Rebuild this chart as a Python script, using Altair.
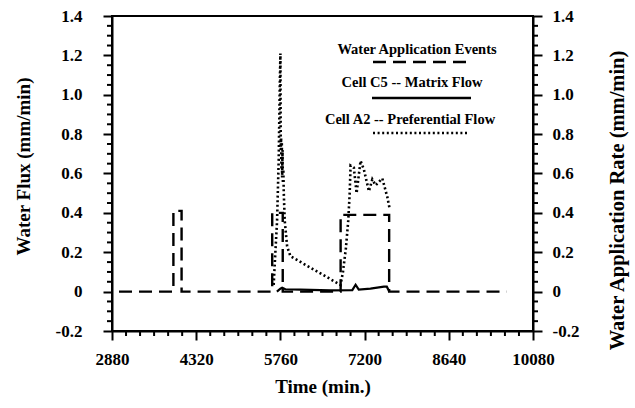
import altair as alt
import pandas as pd

# ---- data (time in minutes, flux/rate in mm/min) ----
event_time = [3000, 3930, 3930, 4070, 4070, 5620, 5620, 5800, 5800, 6790, 6790, 7620, 7620, 9630]
event_rate = [0, 0, 0.41, 0.41, 0, 0, 0.40, 0.40, 0, 0, 0.39, 0.39, 0, 0]

c5_time = [5700, 5760, 5790, 5846, 6100, 6620, 6990, 7046, 7100, 7300, 7530, 7580, 7623]
c5_flux = [0, 0.015, 0.02, 0.012, 0.01, 0.006, 0.008, 0.035, 0.01, 0.015, 0.025, 0.025, 0]

a2_time = [5645, 5674, 5703, 5731, 5749, 5760, 5766, 5772, 5778, 5784, 5790, 5796, 5803,
           5810, 5818, 5834, 5875, 5931, 6789, 6830, 6880, 6920, 6945, 6960, 7016, 7063,
           7131, 7188, 7274, 7332, 7389, 7503, 7589, 7629]
a2_flux = [0.034, 0.2, 0.36, 0.67, 1.04, 1.21, 0.72, 0.78, 0.62, 0.76, 0.58, 0.72, 0.55,
           0.62, 0.5, 0.36, 0.23, 0.18, 0.034, 0.1, 0.22, 0.36, 0.5, 0.64, 0.63, 0.50,
           0.665, 0.62, 0.51, 0.57, 0.54, 0.575, 0.48, 0.42]

legend_labels = ["Water Application Events", "Cell C5 -- Matrix Flow",
                 "Cell A2 -- Preferential Flow"]

x_major = [2880, 4320, 5760, 7200, 8640, 10080]
x_minor = [t for t in range(2880, 10081, 240) if t % 1440 != 0]
y_major = [-0.2, 0, 0.2, 0.4, 0.6, 0.8, 1.0, 1.2, 1.4]
y_minor = [round(-0.2 + 0.05 * k, 2) for k in range(33) if k % 4 != 0]

# ---- tables ----
events = pd.DataFrame({"t": event_time, "v": event_rate, "i": range(len(event_time))})
c5 = pd.DataFrame({"t": c5_time, "v": c5_flux, "i": range(len(c5_time))})
a2 = pd.DataFrame({"t": a2_time, "v": a2_flux, "i": range(len(a2_time))})
xminor_df = pd.DataFrame({"t": x_minor})
yminor_df = pd.DataFrame({"v": y_minor})

W, H = 421, 315
FONT = "Liberation Serif"

xs = alt.Scale(domain=[2880, 10080], nice=False, zero=False)
ys = alt.Scale(domain=[-0.2, 1.4], nice=False, zero=False)

ylab = ("abs(datum.value) < 1e-9 ? '0' : (datum.value < 0 ? '-' + format(-datum.value, '.1f')"
        " : format(datum.value, '.1f'))")

x_axis = alt.Axis(values=x_major, format="d", title="Time (min.)", tickSize=9,
                  labelPadding=11, titlePadding=10, grid=False, labelFlush=False)
y_left = alt.Axis(orient="left", values=y_major, labelExpr=ylab, tickSize=9,
                  labelPadding=21, title="Water Flux (mm/min)", titlePadding=22,
                  grid=False, labelFlush=False, titleY=150)
y_right = alt.Axis(orient="right", values=y_major, labelExpr=ylab, tickSize=9,
                   labelPadding=10, title="Water Application Rate (mm/min)",
                   titleAngle=270, titlePadding=49, grid=False, labelFlush=False,
                   titleY=184, titleFontSize=20.5)

X = alt.X("t:Q", scale=xs, axis=x_axis)

a2_line = alt.Chart(a2).mark_line(color="black", strokeWidth=2.6, strokeDash=[2, 2.6]).encode(
    x=X, y=alt.Y("v:Q", scale=ys, axis=y_left), order="i:Q")
c5_line = alt.Chart(c5).mark_line(color="black", strokeWidth=2.2).encode(
    x=X, y=alt.Y("v:Q", scale=ys, axis=y_left), order="i:Q")
left_minor = alt.Chart(yminor_df).mark_rule(color="black", strokeWidth=2).encode(
    y=alt.Y("v:Q", scale=ys, axis=y_left), x=alt.value(-5), x2=alt.value(0))
bottom_minor = alt.Chart(xminor_df).mark_rule(color="black", strokeWidth=2).encode(
    x=X, y=alt.value(H), y2=alt.value(H + 5))

def leg_text(label, cx, cy):
    return alt.Chart(alt.Data(values=[{"label": label}])).mark_text(
        font=FONT, fontWeight="bold", fontSize=14.5, color="black", align="center",
        baseline="middle").encode(text="label:N", x=alt.value(cx), y=alt.value(cy))

def leg_rule(label, x1, x2, yy, dash):
    props = dict(color="black", strokeWidth=2.3)
    if dash:
        props["strokeDash"] = dash
    return alt.Chart(alt.Data(values=[{"label": label}])).mark_rule(**props).encode(
        x=alt.value(x1), x2=alt.value(x2), y=alt.value(yy))

legend = [
    leg_text(legend_labels[0], 305, 34), leg_rule(legend_labels[0], 261, 358, 46, [13, 7]),
    leg_text(legend_labels[1], 300, 67), leg_rule(legend_labels[1], 260, 359, 82, None),
    leg_text(legend_labels[2], 298, 104), leg_rule(legend_labels[2], 261, 356, 117, [2, 2.6]),
]

left_group = alt.layer(a2_line, c5_line, left_minor, bottom_minor, *legend)

event_line = alt.Chart(events).mark_line(color="black", strokeWidth=2.4, strokeDash=[13, 7]).encode(
    x=X, y=alt.Y("v:Q", scale=ys, axis=y_right), order="i:Q")
right_minor = alt.Chart(yminor_df).mark_rule(color="black", strokeWidth=2).encode(
    y=alt.Y("v:Q", scale=ys, axis=y_right), x=alt.value(W), x2=alt.value(W + 5))
right_group = alt.layer(event_line, right_minor)

chart = alt.layer(left_group, right_group).resolve_scale(y="independent").properties(
    width=W, height=H, autosize=alt.AutoSizeParams(type="none"),
    padding={"left": 112, "top": 16, "right": 102, "bottom": 77},
    background="white",
).configure_view(stroke="black", strokeWidth=2).configure_axis(
    labelFont=FONT, labelFontWeight="bold", labelFontSize=17, labelColor="black",
    titleFont=FONT, titleFontWeight="bold", titleFontSize=19, titleColor="black",
    domainColor="black", domainWidth=2, tickColor="black", tickWidth=2,
)

chart.save("out.html", embed_options={"renderer": "svg", "actions": False})
